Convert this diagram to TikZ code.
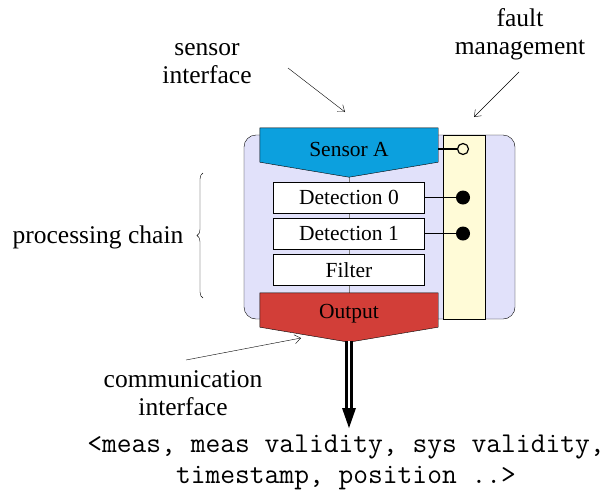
\documentclass[tikz,border=0pt]{standalone}
\usepackage{fontspec}
\setmainfont{Liberation Serif}
\usetikzlibrary{calc,positioning,arrows.meta,decorations.pathreplacing}
\definecolor{sensorblue}{RGB}{12,160,222}
\definecolor{outred}{RGB}{210,62,56}
\definecolor{chainbg}{RGB}{225,225,250}
\definecolor{faultbg}{RGB}{255,251,215}
\tikzset{
  lbl/.style={font=\fontsize{25.5}{28}\selectfont, align=center},
  stage/.style={draw, fill=white, minimum width=151pt, minimum height=31pt,
    inner sep=0pt, font=\fontsize{21.5}{24}\selectfont},
  block/.style={minimum width=178pt, minimum height=34pt, inner sep=0pt,
    font=\fontsize{21.5}{24}\selectfont},
  pointer/.style={-{Straight Barb[length=6pt,width=9pt]}, thin},
}
\begin{document}
\begin{tikzpicture}[x=1pt, y=-1pt]
  \useasboundingbox (0,0) rectangle (613,496);
  % background frames
  \draw[fill=chainbg, rounded corners=12pt] (244,135) rectangle (515,319);
  \draw[fill=faultbg] (443,135) rectangle (485,319);
  % chain spine
  \draw[gray] (349,170) -- (349,300);
  % sensor block
  \node[block] (sensor) at (349,145) {};
  \draw[fill=sensorblue] (sensor.north west) -- (sensor.north east) -- (sensor.south east)
    -- ($(sensor.south)+(0,15)$) coordinate (sensortip) -- (sensor.south west) -- cycle;
  \node[block] at ([yshift=-4pt]sensor.center) {Sensor A};
  % processing stages
  \node[stage] (det0) at (349,197.5) {Detection 0};
  \node[stage] (det1) at (349,233.5) {Detection 1};
  \node[stage] (filter) at (349,270) {Filter};
  % output block
  \node[block] (output) at (349,310) {};
  \draw[fill=outred] (output.north west) -- (output.north east) -- (output.south east)
    -- ($(output.south)+(0,15)$) coordinate (outtip) -- (output.south west) -- cycle;
  \node[block] at ([yshift=-4pt]output.center) {Output};
  % fault management taps
  \node[circle, draw, line width=1.2pt, fill=faultbg, minimum size=11pt, inner sep=0pt] (fs) at (463,149) {};
  \draw[line width=1.2pt] (fs -| sensor.east) -- (fs);
  \foreach \s/\n in {det0/f0, det1/f1} {
    \node[circle, fill=black, minimum size=14pt, inner sep=0pt] (\n) at (463,0 |- \s) {};
    \draw (\s.east) -- (\n);
  }
  % labels
  \node[lbl] (sensorlbl) at (207,64) {sensor\\interface};
  \node[lbl] (faultlbl) at (520,34) {fault\\management};
  \node[lbl] (chainlbl) at (98,237) {processing chain};
  \node[lbl] (commlbl) at (183,393) {communication\\interface};
  \draw[pointer] (288,68) -- (345,112);
  \draw[pointer] (519,72) -- (474,117);
  \draw[pointer] (186,360) -- (301,338);
  \draw[decorate, decoration={brace, amplitude=6pt}] (203,298) -- (203,173);
  % message out
  \node[font=\ttfamily\fontsize{28.7}{31}\selectfont, align=center] (msg) at (346,462)
    {<meas, meas validity, sys validity,\\timestamp, position ..>};
  \coordinate (arrowbase) at (349,408);
  \draw[double, double distance=2.7pt, line width=2.3pt] ([yshift=1pt]outtip) -- ([yshift=-1pt]arrowbase);
  \fill (arrowbase) ++(-7,0) -- ++(14,0) -- (349,428) -- cycle;
\end{tikzpicture}
\end{document}
